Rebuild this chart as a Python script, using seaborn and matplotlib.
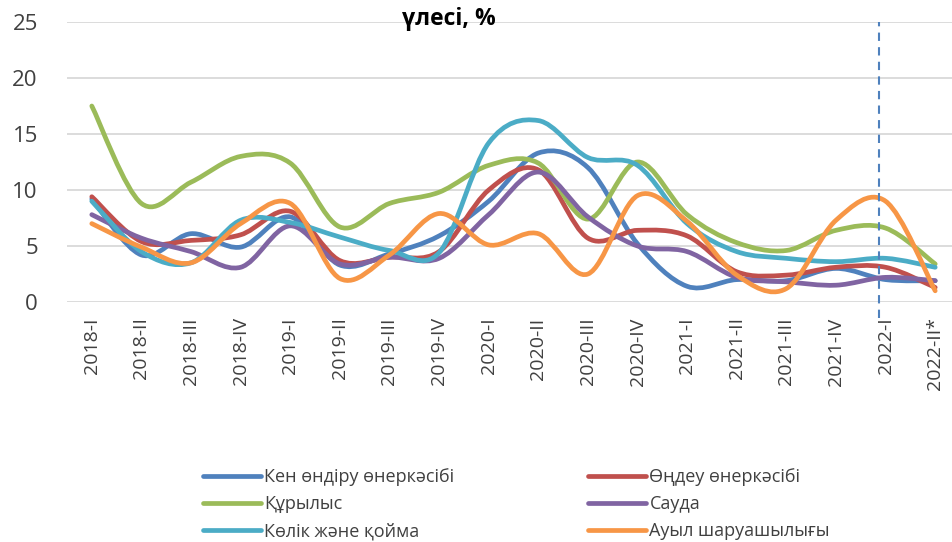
import numpy as np
import matplotlib
matplotlib.use("Agg")
import matplotlib.pyplot as plt
from matplotlib.path import Path
from matplotlib.patches import PathPatch
from matplotlib.lines import Line2D
import seaborn as sns

# quarters on the x axis
quarters = ["2018-I", "2018-II", "2018-III", "2018-IV",
            "2019-I", "2019-II", "2019-III", "2019-IV",
            "2020-I", "2020-II", "2020-III", "2020-IV",
            "2021-I", "2021-II", "2021-III", "2021-IV",
            "2022-I", "2022-II*"]

# share values, %
mining = [9.2, 4.2, 6.1, 4.9, 7.6, 3.3, 4.3, 5.9, 9.0, 13.3, 12.0, 5.2, 1.4, 2.0, 1.9, 3.0, 2.0, 1.9]
manufacturing = [9.4, 5.4, 5.5, 6.0, 8.1, 3.7, 4.0, 4.5, 10.0, 11.8, 5.7, 6.4, 5.9, 2.7, 2.4, 3.1, 3.1, 1.3]
construction = [17.5, 8.8, 10.7, 13.0, 12.4, 6.7, 8.8, 9.8, 12.2, 12.4, 7.4, 12.5, 7.8, 5.3, 4.6, 6.4, 6.6, 3.4]
trade = [7.8, 5.7, 4.5, 3.1, 6.8, 3.4, 4.0, 3.9, 7.8, 11.6, 7.6, 5.0, 4.5, 2.2, 1.8, 1.5, 2.2, 1.9]
transport = [9.0, 4.5, 3.5, 7.3, 7.1, 5.8, 4.6, 4.4, 14.2, 16.2, 12.9, 12.2, 7.0, 4.5, 3.9, 3.6, 3.9, 3.1]
agriculture = [7.0, 4.9, 3.5, 7.0, 8.8, 2.1, 4.2, 7.9, 5.1, 6.1, 2.5, 9.5, 7.2, 2.4, 1.2, 7.3, 9.0, 1.0]

names = ["Кен өндіру өнеркәсібі", "Өңдеу өнеркәсібі", "Құрылыс",
         "Сауда", "Көлік және қойма", "Ауыл шаруашылығы"]
series = [mining, manufacturing, construction, trade, transport, agriculture]
colors = sns.color_palette(["#4F81BD", "#C0504D", "#9BBB59",
                            "#8064A2", "#4BACC6", "#F79646"])

sns.set_theme(style="white")
plt.rcParams['font.family'] = ['Open Sans', 'DejaVu Sans']

fig = plt.figure(figsize=(9.53, 5.42), dpi=100)
ax = fig.add_axes([67 / 953, 1 - 302 / 542, 893 / 953, 280 / 542])


def smooth_path(vals):
    # excel-like smoothed line: bezier segments through the data points
    pts = np.column_stack([np.arange(len(vals)), vals]).astype(float)
    ext = np.vstack([pts[0], pts, pts[-1]])
    verts = [pts[0]]
    codes = [Path.MOVETO]
    for i in range(len(pts) - 1):
        p0, p1, p2, p3 = ext[i], ext[i + 1], ext[i + 2], ext[i + 3]
        verts += [p1 + (p2 - p0) / 6, p2 - (p3 - p1) / 6, p2]
        codes += [Path.CURVE4] * 3
    return Path(verts, codes)


for vals, c in zip(series, colors):
    ax.add_patch(PathPatch(smooth_path(vals), fill=False, edgecolor=c,
                           lw=3.4, capstyle="round", joinstyle="round", zorder=3))

ax.set_xlim(-0.5, len(quarters) - 0.5)
ax.set_ylim(0, 25)
ax.set_yticks(range(0, 26, 5))
ax.set_xticks(range(len(quarters)))
ax.set_xticklabels(quarters, rotation=90, fontsize=14, color="#404040")
ax.tick_params(axis="y", labelsize=16, labelcolor="#404040", length=0, pad=21)
ax.tick_params(axis="x", length=0, pad=11)
ax.grid(axis="y", color="#d9d9d9", lw=1.3)
ax.set_axisbelow(True)
sns.despine(ax=ax, left=True, top=True, right=True, bottom=True)

# dashed marker at 2022-I
ax.plot([15.87, 15.87], [-1.4, 25], color="#4F81BD", lw=1.5,
        dashes=(4, 3), clip_on=False, zorder=4)

fig.text(449 / 953, 1 - 25 / 542, "үлесі, %", ha="center", va="baseline",
         fontsize=16.5, fontweight="bold", color="black")

handles = [Line2D([], [], color=c, lw=3.4, solid_capstyle="round") for c in colors]
for col, x0 in enumerate([203, 588]):
    idx = [col, col + 2, col + 4]
    fig.legend([handles[i] for i in idx], [names[i] for i in idx],
               loc="upper left", bbox_to_anchor=(x0 / 953, 1 - 468 / 542),
               frameon=False, fontsize=13, handlelength=3.2, handletextpad=0.2,
               labelspacing=0.5, borderpad=0, borderaxespad=0,
               labelcolor="#404040")

fig.savefig("out.png", dpi=100)
